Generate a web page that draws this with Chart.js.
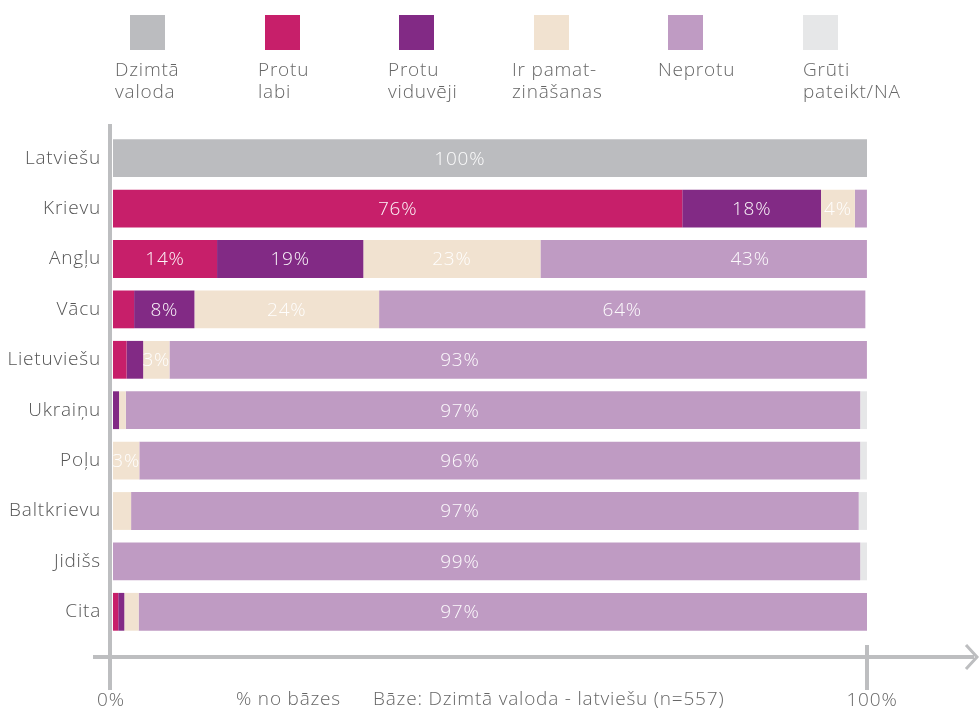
<!DOCTYPE html>
<html>
<head>
<meta charset="utf-8">
<script src="https://cdn.jsdelivr.net/npm/chart.js@4"></script>
<style>
  body { margin: 0; background: #fff; }
  #wrap { position: relative; width: 980px; height: 710px; }
  #chart { position: absolute; left: 0; top: 0; }
  .sw { position: absolute; top: 15px; width: 35px; height: 35px; }
  .lt { position: absolute; top: 58px; font: 300 19px "Open Sans", "Liberation Sans", sans-serif; letter-spacing: 0.8px; color: #666; line-height: 22px; white-space: pre; }
</style>
</head>
<body>
<div id="wrap">
  <canvas id="chart" width="980" height="710"></canvas>
  <div id="legend"></div>
</div>
<script>
// Categories and series (percent of base)
const languages = ['Latviešu', 'Krievu', 'Angļu', 'Vācu', 'Lietuviešu', 'Ukraiņu', 'Poļu', 'Baltkrievu', 'Jidišs', 'Cita'];
const seriesNames = ['Dzimtā\nvaloda', 'Protu\nlabi', 'Protu\nviduvēji', 'Ir pamat-\nzināšanas', 'Neprotu', 'Grūti\npateikt/NA'];
const native   = [100, 0, 0, 0, 0, 0, 0, 0, 0, 0];
const good     = [0, 75.5, 13.8, 2.8, 1.8, 0, 0, 0, 0, 0.7];
const medium   = [0, 18.4, 19.4, 8.0, 2.2, 0.8, 0, 0, 0, 0.8];
const basic    = [0, 4.49, 23.49, 24.49, 3.49, 0.9, 3.49, 2.4, 0, 1.9];
const none     = [0, 1.6, 43.3, 64.49, 92.5, 97.4, 95.6, 96.5, 99.1, 96.6];
const dontKnow = [0, 0, 0, 0, 0, 0.9, 0.9, 1.1, 0.9, 0];
const xTicks = ['0%', '100%'];
const notes = ['% no bāzes', 'Bāze: Dzimtā valoda - latviešu (n=557)'];

const colors = ['#BBBCBF', '#C71F6A', '#822A85', '#F1E2D0', '#BF9BC3', '#E6E7E8'];
const FONT = '"Open Sans", "Liberation Sans", sans-serif';
const AXIS = '#BDBEC0';

// legend (html)
const legendTextX = [115, 258, 388, 512, 658, 803];
const legend = document.getElementById('legend');
seriesNames.forEach((name, i) => {
    const sw = document.createElement('div');
    sw.className = 'sw';
    sw.style.left = (130 + i * 134.6) + 'px';
    sw.style.background = colors[i];
    legend.appendChild(sw);
    const t = document.createElement('div');
    t.className = 'lt';
    t.style.left = legendTextX[i] + 'px';
    t.textContent = name;
    legend.appendChild(t);
});

const allSeries = [native, good, medium, basic, none, dontKnow];

// value labels inside bars + custom axis lines
const decorations = {
    id: 'decorations',
    beforeDraw(chart) {
        chart.ctx.letterSpacing = '0.8px';
    },
    afterDatasetsDraw(chart) {
        const ctx = chart.ctx;
        const xs = chart.scales.x;
        ctx.save();
        ctx.font = '300 19px ' + FONT;
        ctx.fillStyle = 'rgba(255,255,255,0.95)';
        ctx.textAlign = 'center';
        ctx.textBaseline = 'middle';
        chart.data.datasets.forEach((ds, di) => {
            chart.getDatasetMeta(di).data.forEach((el, i) => {
                const v = ds.data[i];
                if (v < 3) return;
                // very long bars get their label near the middle of the plot, like the original
                let cx = v >= 90 ? xs.getPixelForValue(46) : (el.x + el.base) / 2;
                if (di === 4 && v > 40 && v < 50) cx = xs.getPixelForValue(84.5);
                ctx.fillText(Math.round(v) + '%', cx, el.y + 1);
            });
        });
        ctx.restore();
    },
    afterDraw(chart) {
        const ctx = chart.ctx;
        const x = chart.scales.x;
        const x0 = x.getPixelForValue(0) - 3;
        const x100 = x.getPixelForValue(100);
        const yAxis = 657;
        ctx.save();
        ctx.strokeStyle = AXIS;
        ctx.lineWidth = 4;
        ctx.beginPath();
        ctx.moveTo(x0, 124); ctx.lineTo(x0, 690);
        ctx.moveTo(93, yAxis); ctx.lineTo(974, yAxis);
        ctx.moveTo(x100, 645); ctx.lineTo(x100, 690);
        ctx.stroke();
        ctx.lineWidth = 3;
        ctx.beginPath();
        ctx.moveTo(966, 645); ctx.lineTo(977, yAxis); ctx.lineTo(966, 669);
        ctx.stroke();
        ctx.font = '300 19px ' + FONT;
        ctx.fillStyle = '#666';
        ctx.textBaseline = 'middle';
        ctx.textAlign = 'center';
        ctx.fillText(xTicks[0], x0 + 1, 701);
        ctx.fillText(xTicks[1], x100 + 5, 701);
        ctx.textAlign = 'left';
        ctx.fillText(notes[0], 236, 700);
        ctx.fillText(notes[1], 373, 700);
        ctx.restore();
    }
};

new Chart(document.getElementById('chart').getContext('2d'), {
    type: 'bar',
    data: {
        labels: languages,
        datasets: allSeries.map((d, i) => ({
            label: seriesNames[i],
            data: d,
            backgroundColor: colors[i],
            borderWidth: 0,
            barPercentage: 1,
            categoryPercentage: 0.75
        }))
    },
    options: {
        indexAxis: 'y',
        responsive: false,
        animation: false,
        layout: { padding: { left: 0, right: 113, top: 133, bottom: 73 } },
        plugins: { legend: { display: false }, tooltip: { enabled: false } },
        scales: {
            x: { stacked: true, min: 0, max: 100, display: false },
            y: {
                stacked: true,
                grid: { display: false, drawTicks: false },
                border: { display: false },
                ticks: { color: '#555', padding: 12, font: { family: FONT, size: 19, weight: '300' } },
                afterFit(scale) { scale.width = 113; }
            }
        }
    },
    plugins: [decorations]
});
</script>
</body>
</html>
